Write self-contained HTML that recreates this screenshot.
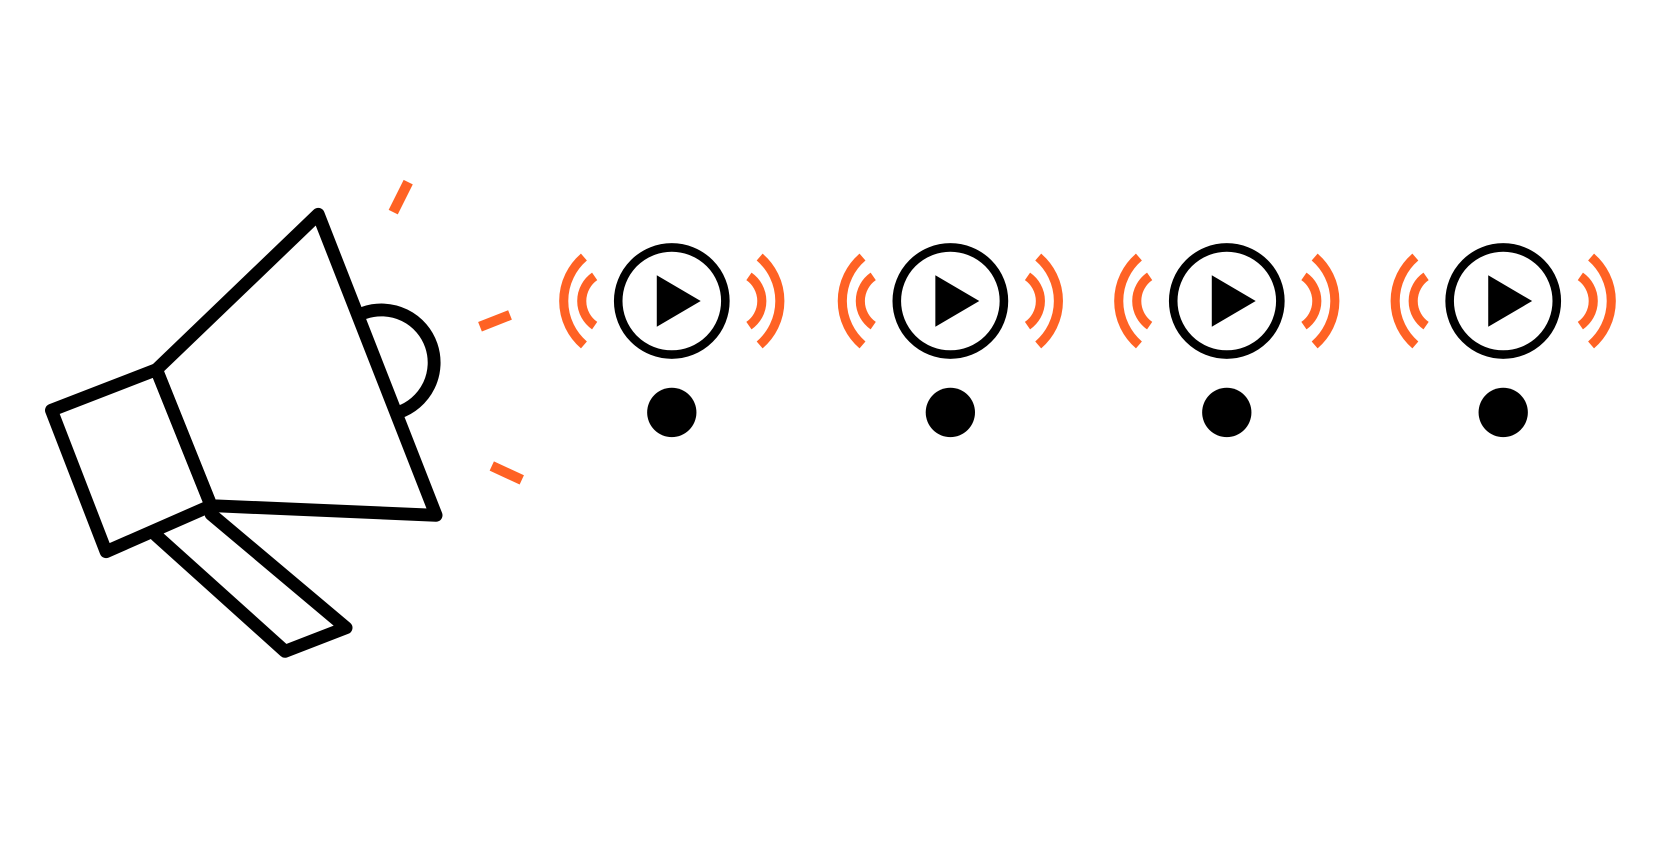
<!DOCTYPE html>
<html><head><meta charset="utf-8"><style>
html,body{margin:0;padding:0;background:#fff;width:1680px;height:842px;overflow:hidden}
svg{display:block}
</style></head><body>
<svg width="1680" height="842" viewBox="0 0 1568 786" preserveAspectRatio="none" xmlns="http://www.w3.org/2000/svg">
<g fill="none" stroke="#000" stroke-width="12" stroke-linejoin="round" stroke-linecap="round">
  <path d="M340 292 A40 40 0 1 1 372 385"/>
  <polygon points="146,345 297,200 407,481 197,472" fill="#fff"/>
  <polygon points="48,383 146,345 197,472 99,515"/>
  <polyline points="146,500 266,608 323,586 197,480"/>
</g>
<g stroke="#ff6224" stroke-width="9.5">
  <line x1="367" y1="198" x2="381" y2="170"/>
  <line x1="448" y1="305" x2="476" y2="294"/>
  <line x1="459" y1="435" x2="487" y2="448"/>
</g>
<defs>
<g id="ic">
  <g fill="none" stroke="#ff6224" stroke-width="8.5">
    <path d="M-72 -23 A28 28 0 0 0 -72 23"/>
    <path d="M-82 -41 A54 54 0 0 0 -82 41"/>
    <path d="M72 -23 A28 28 0 0 1 72 23"/>
    <path d="M82 -41 A54 54 0 0 1 82 41"/>
  </g>
  <circle r="50" fill="#fff" stroke="#000" stroke-width="8"/>
  <polygon points="-14,-24 -14,24 27,0" fill="#000"/>
  <circle cy="104" r="23" fill="#000"/>
</g>
</defs>
<use href="#ic" x="627" y="281"/>
<use href="#ic" x="887" y="281"/>
<use href="#ic" x="1145" y="281"/>
<use href="#ic" x="1403" y="281"/>
</svg>
</body></html>
